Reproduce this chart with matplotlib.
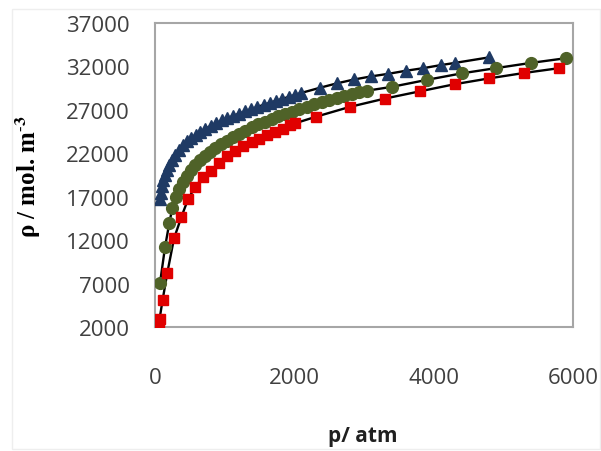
import matplotlib
matplotlib.use('Agg')
import matplotlib.pyplot as plt
from matplotlib.patches import Rectangle

plt.rcParams['mathtext.fontset'] = 'stix'

# dati (p in atm, densita in mol/m3)
p_blue = [70, 80, 95, 115, 140, 170, 205, 245, 290, 340, 400, 460, 520, 590, 650, 720,
          800, 880, 960, 1040, 1120, 1200, 1290, 1380, 1470, 1560, 1650, 1740, 1830,
          1920, 2010, 2100, 2370, 2610, 2860, 3100, 3350, 3600, 3850, 4100, 4300, 4800]
rho_blue = [16750, 17400, 18200, 18950, 19500, 20100, 20700, 21250, 21830, 22400, 22900,
            23400, 23800, 24150, 24450, 24800, 25150, 25480, 25780, 26050, 26300, 26550,
            26820, 27080, 27340, 27580, 27820, 28050, 28270, 28500, 28720, 28950, 29550,
            30050, 30500, 30850, 31150, 31500, 31800, 32150, 32400, 33050]

p_green = [72, 144, 205, 248, 301, 349, 398, 455, 512, 574, 646, 718, 789, 861, 943, 1029,
           1115, 1201, 1292, 1388, 1483, 1579, 1675, 1770, 1866, 1962, 2071, 2178, 2282,
           2393, 2502, 2608, 2713, 2823, 2933, 3039, 3400, 3900, 4400, 4890, 5390, 5900]
rho_green = [7050, 11200, 13950, 15650, 16950, 17900, 18650, 19400, 20050, 20650, 21250,
             21700, 22200, 22650, 23050, 23450, 23850, 24200, 24600, 25000, 25350, 25650,
             25950, 26250, 26500, 26800, 27100, 27350, 27650, 27850, 28100, 28350, 28550,
             28800, 29000, 29200, 29650, 30450, 31200, 31800, 32400, 32950]

p_red = [55, 65, 110, 177, 273, 380, 474, 574, 693, 804, 919, 1038, 1148, 1267, 1388,
         1493, 1603, 1722, 1833, 1938, 2010, 2307, 2800, 3300, 3800, 4300, 4800, 5300, 5800]
rho_red = [2300, 2900, 5150, 8250, 12200, 14700, 16700, 18100, 19250, 20000, 20900, 21650,
           22300, 22800, 23250, 23700, 24100, 24500, 24850, 25200, 25450, 26200, 27350,
           28300, 29130, 29950, 30630, 31250, 31800]

y_ticks = [2000, 7000, 12000, 17000, 22000, 27000, 32000, 37000]
x_ticks = [0, 2000, 4000, 6000]

fig = plt.figure(figsize=(6.01, 4.52), dpi=100)
# cornice leggera dell'immagine
fig.patches.append(Rectangle((12 / 601, 2 / 452), 588 / 601, 440 / 452, transform=fig.transFigure,
                             fill=False, edgecolor='#eeeeee', linewidth=1))
ax = fig.add_axes([155 / 601, 1 - 328 / 452, 418 / 601, 304 / 452])

# curve del modello (nere) sotto i marker
for p, rho in [(p_blue, rho_blue), (p_green, rho_green), (p_red, rho_red)]:
    ax.plot(p, rho, color='black', linewidth=1.7, zorder=2)

ax.plot(p_blue, rho_blue, linestyle='none', marker='^', markersize=8, color='#1f3a64', zorder=3)
ax.plot(p_green, rho_green, linestyle='none', marker='o', markersize=8.5, color='#4f6228', zorder=3)
ax.plot(p_red, rho_red, linestyle='none', marker='s', markersize=6.5, color='#e00000', zorder=3)

ax.set_xlim(0, 6000)
ax.set_ylim(2000, 37000)
ax.set_xticks(x_ticks)
ax.set_yticks(y_ticks)
ax.set_xticklabels([str(v) for v in x_ticks], fontfamily='Open Sans', fontsize=16, color='#404040')
ax.set_yticklabels([str(v) for v in y_ticks], fontfamily='Open Sans', fontsize=16, color='#404040')
ax.tick_params(axis='both', length=0)
ax.tick_params(axis='x', pad=29)
ax.tick_params(axis='y', pad=18)

for s in ax.spines.values():
    s.set_color('#a6a6a6')
    s.set_linewidth(1.5)

fig.text(363 / 601, 1 - 437 / 452, 'p/ atm', ha='center', va='center',
         fontfamily='Open Sans', fontweight='bold', fontsize=15, color='#202020')
fig.text(28 / 601, 1 - 177 / 452, 'ρ / mol. m$^{\\mathbf{\\text{-}3}}$', ha='center', va='center',
         rotation=90, fontfamily='Liberation Serif', fontweight='bold', fontsize=18)

plt.savefig('out.png', dpi=100)
